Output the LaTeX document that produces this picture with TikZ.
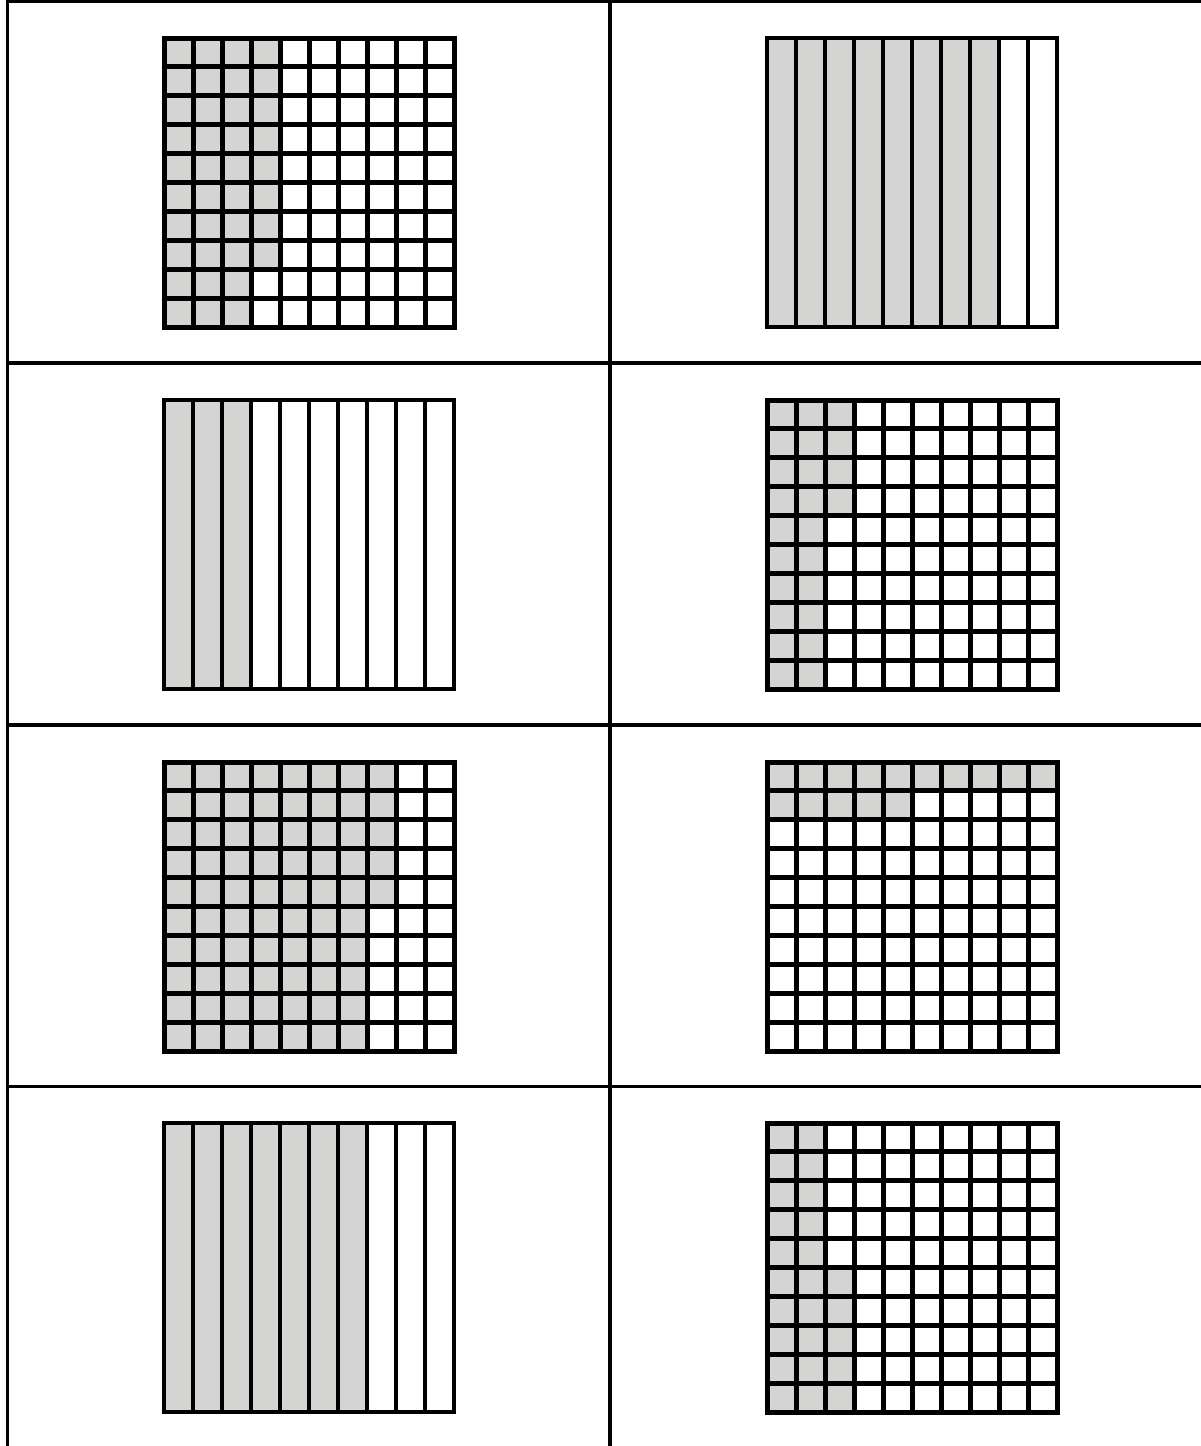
\documentclass[tikz,border=0pt]{standalone}
\definecolor{shade}{RGB}{212,212,210}
\tikzset{
  gridline/.style={line width=5pt, line cap=rect},
  stripline/.style={line width=4.5pt},
  tableline/.style={line width=3.5pt},
  cellfill/.style={fill=shade}
}
\newcommand{\sqgrid}[3]{%
  \begin{scope}[shift={(#1,#2)}]
    \foreach \n [count=\r from 0] in {#3} {
      \fill[cellfill] (0,\r*28.9) rectangle (\n*29,\r*28.9+28.9);
    }
    \foreach \i in {1,...,9} {
      \draw[gridline] (\i*29,0) -- (\i*29,289);
      \draw[gridline] (0,\i*28.9) -- (290,\i*28.9);
    }
    \draw[gridline] (0,0) rectangle (290,289);
  \end{scope}}
\newcommand{\stripgrid}[3]{%
  \begin{scope}[shift={(#1,#2)}]
    \fill[cellfill] (0,0) rectangle (#3*29,289);
    \foreach \i in {1,...,9} {
      \draw[stripline] (\i*29,0) -- (\i*29,289);
    }
    \draw[stripline] (0,0) rectangle (290,289);
  \end{scope}}
\begin{document}
\begin{tikzpicture}[x=1pt,y=-1pt]
  \useasboundingbox (0,0) rectangle (1201,1446);
  % table
  \draw[tableline] (6,1.5) -- (1201,1.5);
  \draw[tableline] (7.5,0) -- (7.5,1446);
  \draw[tableline] (610,0) -- (610,1446);
  \draw[tableline] (7.5,363) -- (1201,363);
  \draw[tableline] (7.5,725) -- (1201,725);
  \draw[tableline] (7.5,1086.5) -- (1201,1086.5);
  % row 1
  \sqgrid{164}{38}{4,4,4,4,4,4,4,4,3,3}
  \stripgrid{767}{38}{8}
  % row 2
  \stripgrid{164}{400}{3}
  \sqgrid{767}{400}{3,3,3,3,2,2,2,2,2,2}
  % row 3
  \sqgrid{164}{762}{8,8,8,8,8,7,7,7,7,7}
  \sqgrid{767}{762}{10,5,0,0,0,0,0,0,0,0}
  % row 4
  \stripgrid{164}{1123}{7}
  \sqgrid{767}{1123}{2,2,2,2,2,3,3,3,3,3}
\end{tikzpicture}
\end{document}
